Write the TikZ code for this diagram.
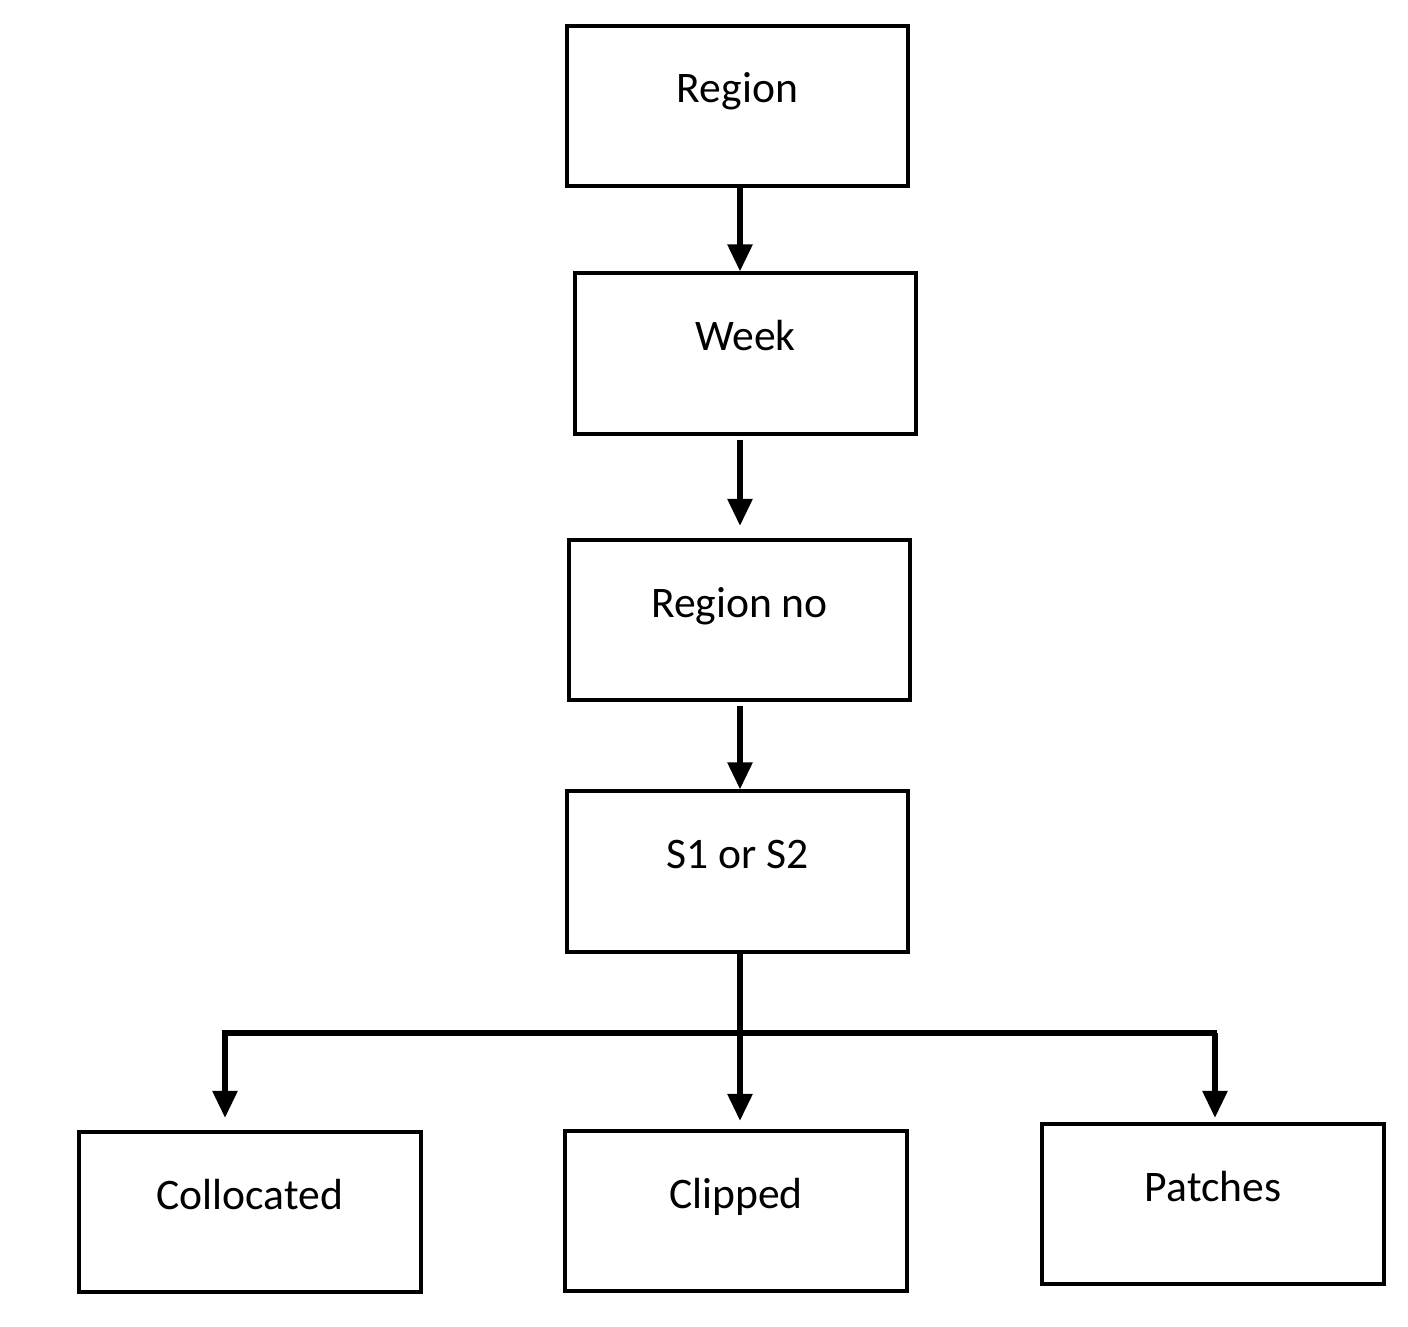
\documentclass[tikz,border=0pt]{standalone}
\usepackage{fontspec}
\setmainfont{Carlito}
\usepackage{tikz}
\usetikzlibrary{positioning,arrows.meta}

\tikzset{
  stagebox/.style={draw, line width=1.15pt, minimum width=3.41cm, minimum height=1.6cm,
    inner sep=0pt, font=\fontsize{12.4}{14}\selectfont, text height=0.3cm, text depth=0.36cm},
  flow/.style={line width=1.6pt, -{Triangle[width=0.24cm,length=0.27cm]}},
  bus/.style={line width=1.6pt}
}

\begin{document}
\begin{tikzpicture}[x=0.01cm, y=-0.01cm]
        \useasboundingbox (0,0) rectangle (1408,1327);

        % Chain of boxes, top to bottom
        \node[stagebox] (region) at (737.5,106) {Region};       % top box
        \node[stagebox] (week) at (745.5,353.5) {Week};         % second box
        \node[stagebox] (regionno) at (739.5,620) {Region no};  % third box
        \node[stagebox] (sat) at (737.5,871.5) {S1 or S2};      % fourth box

        % Three output boxes in the bottom row
        \node[stagebox] (colloc) at (250,1212) {Collocated};
        \node[stagebox] (clip) at (736,1211) {Clipped};
        \node[stagebox] (patch) at (1213,1204) {Patches};

        % Ends of the horizontal split line
        \coordinate (splitL) at (225,1033);
        \coordinate (splitR) at (1215,1033);

        % Vertical arrows between the boxes
        \draw[flow] (region.south -| 740,0) -- (week.north -| 740,0);
        \draw[flow, shorten <=0.04cm, shorten >=0.12cm] (week.south -| 740,0) -- (regionno.north -| 740,0);
        \draw[flow, shorten <=0.04cm] (regionno.south -| 740,0) -- (sat.north -| 740,0);

        % Split into the three outputs
        \draw[bus] ([xshift=-0.03cm]splitL) -- ([xshift=0.02cm]splitR);
        \draw[flow, shorten >=0.08cm] (sat.south -| 740,0) -- (clip.north -| 740,0);
        \draw[flow, shorten >=0.12cm] (splitL) -- (splitL |- colloc.north);
        \draw[flow, shorten >=0.04cm] (splitR) -- (splitR |- patch.north);
\end{tikzpicture}
\end{document}
